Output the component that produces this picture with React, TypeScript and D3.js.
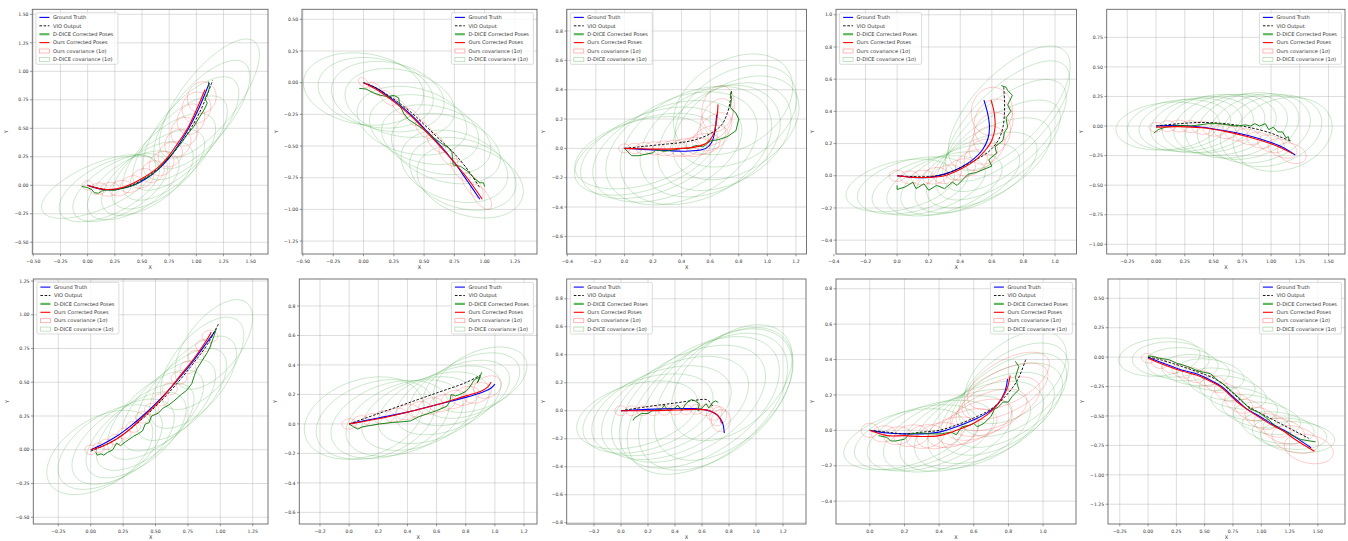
import React from "react";
import * as d3 from "d3";

type Pt = [number, number];
type Ell = [number, number, number, number, number]; // cx, cy, a, b, angle(deg)

// ---------- panel 1 ----------
const p1Gt: Pt[] = [[0,0],[0.1,-0.03],[0.2,-0.04],[0.3,-0.03],[0.42,0.0],[0.54,0.06],[0.65,0.14],[0.75,0.24],[0.84,0.36],[0.93,0.5],[1.02,0.67],[1.12,0.9]];
const p1Vio: Pt[] = [[0,0],[0.15,-0.035],[0.3,-0.03],[0.45,0.02],[0.6,0.11],[0.73,0.22],[0.85,0.36],[0.95,0.5],[1.05,0.68],[1.15,0.92]];
const p1Ours: Pt[] = [[0,0],[0.07,-0.02],[0.15,-0.035],[0.27,-0.03],[0.4,0.01],[0.52,0.07],[0.64,0.15],[0.74,0.25],[0.83,0.37],[0.92,0.5],[1.0,0.66],[1.08,0.84]];
const p1Dice: Pt[] = [[-0.055,-0.01],[0.0,-0.02],[0.04,-0.04],[0.06,-0.065],[0.1,-0.07],[0.13,-0.05],[0.18,-0.04],[0.25,-0.045],[0.3,-0.03],[0.36,-0.02],[0.42,0.0],[0.47,0.02],[0.5,0.05],[0.55,0.07],[0.6,0.1],[0.66,0.15],[0.7,0.2],[0.75,0.25],[0.8,0.3],[0.86,0.37],[0.92,0.45],[0.98,0.52],[1.03,0.6],[1.07,0.66],[1.1,0.72],[1.08,0.76],[1.11,0.82],[1.12,0.86],[1.11,0.91]];
const p1OursCov: Ell[] = [[0,0,0.05,0.04,0],[0.1,-0.03,0.08,0.05,10],[0.2,-0.035,0.09,0.06,10],[0.3,-0.025,0.1,0.065,15],[0.4,0.01,0.1,0.07,20],[0.5,0.06,0.11,0.08,25],[0.6,0.12,0.11,0.09,30],[0.68,0.19,0.12,0.1,35],[0.76,0.27,0.12,0.1,40],[0.83,0.37,0.13,0.11,45],[0.89,0.47,0.13,0.12,50],[0.95,0.58,0.14,0.12,55],[1.0,0.68,0.14,0.13,60],[1.05,0.77,0.14,0.13,60]];
const p1DiceCov: Ell[] = [[0.1,-0.01,0.56,0.2,22],[0.2,-0.03,0.5,0.22,25],[0.3,-0.02,0.48,0.22,28],[0.42,0.0,0.47,0.22,30],[0.55,0.06,0.48,0.23,33],[0.65,0.14,0.5,0.23,36],[0.75,0.25,0.52,0.24,40],[0.85,0.37,0.55,0.24,43],[0.95,0.5,0.58,0.25,46],[1.05,0.62,0.6,0.25,48],[1.12,0.76,0.65,0.25,50]];
const p1XTicks = [-0.5,-0.25,0,0.25,0.5,0.75,1,1.25,1.5];
const p1YTicks = [-0.5,-0.25,0,0.25,0.5,0.75,1,1.25,1.5];

// ---------- panel 2 ----------
const p2Gt: Pt[] = [[0,0],[0.1,-0.04],[0.25,-0.14],[0.4,-0.26],[0.5,-0.36],[0.62,-0.48],[0.75,-0.63],[0.86,-0.78],[0.96,-0.92]];
const p2Vio: Pt[] = [[0,0],[0.1,-0.04],[0.25,-0.13],[0.4,-0.24],[0.5,-0.33],[0.62,-0.44],[0.75,-0.56],[0.87,-0.7],[0.96,-0.83]];
const p2Ours: Pt[] = [[0,0],[0.1,-0.05],[0.25,-0.15],[0.4,-0.27],[0.5,-0.37],[0.62,-0.49],[0.75,-0.63],[0.87,-0.77],[0.98,-0.92]];
const p2Dice: Pt[] = [[-0.035,-0.045],[0.02,-0.05],[0.08,-0.08],[0.14,-0.1],[0.2,-0.11],[0.25,-0.1],[0.29,-0.12],[0.3,-0.18],[0.33,-0.24],[0.37,-0.29],[0.42,-0.32],[0.48,-0.36],[0.55,-0.41],[0.6,-0.45],[0.66,-0.49],[0.7,-0.51],[0.73,-0.55],[0.74,-0.65],[0.8,-0.66],[0.86,-0.7],[0.92,-0.76],[0.96,-0.79],[0.99,-0.79],[1.0,-0.82]];
const p2OursCov: Ell[] = [[0,0,0.05,0.03,-40],[0.1,-0.05,0.07,0.035,-40],[0.2,-0.12,0.08,0.04,-40],[0.3,-0.19,0.08,0.04,-42],[0.4,-0.27,0.09,0.045,-44],[0.5,-0.37,0.09,0.045,-45],[0.6,-0.47,0.1,0.05,-47],[0.7,-0.58,0.1,0.05,-48],[0.8,-0.69,0.11,0.05,-50],[0.9,-0.81,0.12,0.055,-50],[0.97,-0.9,0.12,0.055,-50]];
const p2DiceCov: Ell[] = [[0,-0.05,0.5,0.28,-8],[0.1,-0.08,0.48,0.27,-10],[0.2,-0.11,0.47,0.27,-10],[0.3,-0.16,0.46,0.26,-12],[0.4,-0.3,0.46,0.26,-12],[0.5,-0.37,0.46,0.26,-14],[0.6,-0.45,0.46,0.26,-14],[0.68,-0.52,0.46,0.26,-15],[0.75,-0.66,0.45,0.27,-15],[0.82,-0.72,0.45,0.27,-16],[0.88,-0.78,0.45,0.27,-16]];
const p2XTicks = [-0.5,-0.25,0,0.25,0.5,0.75,1,1.25];
const p2YTicks = [-1.25,-1,-0.75,-0.5,-0.25,0,0.25,0.5];

// ---------- panel 3 ----------
const p3Gt: Pt[] = [[0,0],[0.1,-0.005],[0.2,-0.01],[0.3,-0.015],[0.4,-0.02],[0.5,-0.015],[0.57,0.0],[0.61,0.04],[0.63,0.1],[0.64,0.17],[0.645,0.23]];
const p3Vio: Pt[] = [[0,0],[0.1,0.01],[0.2,0.02],[0.3,0.03],[0.4,0.04],[0.5,0.06],[0.6,0.1],[0.68,0.16],[0.72,0.24],[0.74,0.32],[0.75,0.4]];
const p3Ours: Pt[] = [[0,0],[0.1,-0.003],[0.2,-0.005],[0.3,-0.005],[0.4,0.0],[0.5,0.01],[0.58,0.04],[0.62,0.09],[0.64,0.16],[0.65,0.23],[0.655,0.3]];
const p3Dice: Pt[] = [[0,0],[0.02,-0.02],[0.05,-0.05],[0.1,-0.05],[0.15,-0.04],[0.2,-0.03],[0.22,-0.01],[0.28,-0.02],[0.35,-0.01],[0.4,0.0],[0.45,0.0],[0.5,0.02],[0.55,0.01],[0.6,0.05],[0.66,0.06],[0.72,0.08],[0.78,0.12],[0.8,0.2],[0.78,0.24],[0.74,0.28],[0.75,0.34],[0.74,0.37],[0.75,0.39]];
const p3OursCov: Ell[] = [[0,0,0.04,0.03,0],[0.07,0,0.05,0.035,0],[0.14,0,0.06,0.04,0],[0.21,0,0.07,0.045,0],[0.28,0,0.08,0.05,0],[0.35,0,0.09,0.055,0],[0.42,0.005,0.1,0.06,5],[0.49,0.01,0.11,0.065,5],[0.55,0.03,0.12,0.07,10],[0.6,0.07,0.13,0.08,20],[0.63,0.13,0.14,0.09,40],[0.645,0.2,0.15,0.1,60],[0.655,0.27,0.16,0.11,75]];
const p3DiceCov: Ell[] = [[0.12,-0.03,0.48,0.22,15],[0.15,-0.04,0.52,0.24,18],[0.2,-0.03,0.53,0.27,20],[0.3,-0.02,0.55,0.3,22],[0.4,0.0,0.56,0.34,24],[0.5,0.02,0.56,0.36,25],[0.6,0.05,0.52,0.34,26],[0.7,0.08,0.5,0.32,28],[0.78,0.14,0.48,0.3,30],[0.78,0.22,0.46,0.3,30],[0.76,0.3,0.45,0.3,30]];
const p3XTicks = [-0.4,-0.2,0,0.2,0.4,0.6,0.8,1.0,1.2];
const p3YTicks = [-0.6,-0.4,-0.2,0,0.2,0.4,0.6,0.8];

// ---------- panel 4 ----------
const p4Gt: Pt[] = [[0,0],[0.1,-0.01],[0.2,-0.01],[0.3,0.01],[0.4,0.05],[0.48,0.1],[0.54,0.16],[0.575,0.23],[0.585,0.3],[0.575,0.38],[0.55,0.47]];
const p4Vio: Pt[] = [[0,0],[0.1,-0.005],[0.2,-0.005],[0.3,0.01],[0.4,0.05],[0.5,0.1],[0.58,0.15],[0.64,0.22],[0.67,0.3],[0.68,0.4],[0.68,0.47],[0.675,0.55]];
const p4Ours: Pt[] = [[0,0],[0.1,-0.01],[0.2,-0.01],[0.3,0.0],[0.4,0.04],[0.5,0.1],[0.56,0.16],[0.6,0.22],[0.62,0.3],[0.615,0.39],[0.595,0.47]];
const p4Dice: Pt[] = [[0.0,-0.06],[0.0,-0.085],[0.05,-0.07],[0.1,-0.04],[0.12,-0.08],[0.17,-0.05],[0.2,-0.09],[0.25,-0.06],[0.3,-0.08],[0.35,-0.04],[0.38,-0.06],[0.42,-0.02],[0.45,0.01],[0.5,0.02],[0.55,0.04],[0.6,0.06],[0.58,0.1],[0.63,0.14],[0.62,0.18],[0.67,0.22],[0.68,0.27],[0.7,0.3],[0.69,0.36],[0.72,0.4],[0.7,0.44],[0.73,0.5],[0.7,0.53],[0.69,0.55],[0.66,0.56]];
const p4OursCov: Ell[] = [[0,0,0.05,0.035,0],[0.08,-0.01,0.06,0.04,0],[0.16,-0.01,0.07,0.045,5],[0.24,0.0,0.08,0.05,10],[0.32,0.01,0.09,0.055,15],[0.4,0.04,0.1,0.06,20],[0.47,0.08,0.11,0.07,30],[0.53,0.13,0.12,0.08,40],[0.57,0.19,0.13,0.1,50],[0.6,0.26,0.14,0.11,60],[0.61,0.33,0.15,0.12,70],[0.6,0.4,0.15,0.13,80]];
const p4DiceCov: Ell[] = [[0.02,-0.06,0.35,0.15,12],[0.1,-0.06,0.36,0.16,14],[0.2,-0.06,0.37,0.16,16],[0.3,-0.05,0.38,0.17,18],[0.4,-0.02,0.4,0.18,22],[0.5,0.02,0.42,0.19,26],[0.58,0.08,0.44,0.2,30],[0.64,0.16,0.46,0.2,35],[0.68,0.25,0.48,0.21,40],[0.7,0.34,0.5,0.21,43],[0.71,0.42,0.5,0.22,45]];
const p4XTicks = [-0.4,-0.2,0,0.2,0.4,0.6,0.8,1.0];
const p4YTicks = [-0.4,-0.2,0,0.2,0.4,0.6,0.8,1.0];

// ---------- panel 5 ----------
const p5Gt: Pt[] = [[0,0],[0.2,0.005],[0.4,-0.01],[0.6,-0.04],[0.8,-0.08],[1.0,-0.14],[1.1,-0.18],[1.21,-0.245]];
const p5Vio: Pt[] = [[0,0],[0.2,0.02],[0.4,0.03],[0.6,0.02],[0.8,-0.01],[1.0,-0.06],[1.1,-0.1],[1.17,-0.125]];
const p5Ours: Pt[] = [[0,-0.01],[0.2,-0.005],[0.4,-0.015],[0.6,-0.045],[0.8,-0.09],[1.0,-0.15],[1.1,-0.19],[1.19,-0.235]];
const p5Dice: Pt[] = [[-0.02,-0.06],[0.02,-0.03],[0.08,-0.01],[0.15,0.0],[0.22,0.005],[0.3,0.0],[0.38,0.01],[0.45,0.02],[0.55,0.02],[0.62,0.01],[0.7,0.0],[0.78,0.01],[0.82,0.0],[0.86,0.02],[0.9,0.0],[0.95,0.02],[0.98,-0.03],[1.02,-0.01],[1.06,-0.05],[1.1,-0.05],[1.13,-0.1],[1.15,-0.09],[1.16,-0.13]];
const p5OursCov: Ell[] = [[0,-0.01,0.06,0.04,0],[0.1,0,0.07,0.045,0],[0.2,0,0.08,0.05,-3],[0.3,-0.005,0.08,0.05,-3],[0.4,-0.015,0.09,0.055,-5],[0.5,-0.03,0.09,0.055,-5],[0.6,-0.045,0.1,0.06,-8],[0.7,-0.065,0.1,0.06,-10],[0.8,-0.09,0.11,0.065,-12],[0.9,-0.12,0.11,0.065,-14],[1.0,-0.15,0.12,0.07,-16],[1.1,-0.19,0.13,0.075,-18],[1.18,-0.23,0.13,0.08,-20]];
const p5DiceCov: Ell[] = [[0.1,0,0.45,0.2,5],[0.2,0.01,0.45,0.21,6],[0.3,0.01,0.45,0.22,7],[0.4,0.01,0.45,0.23,8],[0.5,0.02,0.45,0.24,9],[0.6,0.01,0.45,0.25,10],[0.7,0,0.45,0.26,12],[0.8,0,0.45,0.27,13],[0.9,-0.02,0.45,0.28,14],[1.0,-0.04,0.45,0.29,15],[1.1,-0.07,0.44,0.3,16]];
const p5XTicks = [-0.25,0,0.25,0.5,0.75,1,1.25,1.5];
const p5YTicks = [-1,-0.75,-0.5,-0.25,0,0.25,0.5,0.75];

// ---------- panel 6 ----------
const p6Gt: Pt[] = [[0,0],[0.1,0.045],[0.2,0.1],[0.3,0.17],[0.4,0.25],[0.5,0.34],[0.6,0.44],[0.7,0.55],[0.8,0.67],[0.9,0.8],[0.96,0.88]];
const p6Vio: Pt[] = [[0,-0.01],[0.1,0.03],[0.2,0.08],[0.3,0.15],[0.4,0.23],[0.5,0.32],[0.6,0.42],[0.7,0.53],[0.8,0.65],[0.9,0.78],[0.99,0.94]];
const p6Ours: Pt[] = [[0,0],[0.1,0.03],[0.2,0.08],[0.3,0.15],[0.4,0.24],[0.5,0.33],[0.6,0.44],[0.7,0.56],[0.8,0.68],[0.9,0.82],[0.93,0.87]];
const p6Dice: Pt[] = [[0.04,-0.02],[0.05,-0.04],[0.08,-0.03],[0.1,-0.04],[0.13,-0.02],[0.17,0.0],[0.2,0.05],[0.23,0.03],[0.27,0.06],[0.33,0.1],[0.37,0.12],[0.4,0.14],[0.42,0.19],[0.45,0.2],[0.47,0.25],[0.52,0.27],[0.56,0.31],[0.6,0.33],[0.64,0.36],[0.7,0.41],[0.74,0.44],[0.78,0.49],[0.8,0.55],[0.82,0.6],[0.86,0.66],[0.9,0.72],[0.92,0.76],[0.95,0.84],[0.97,0.9]];
const p6OursCov: Ell[] = [[0,0,0.045,0.035,0],[0.06,0.015,0.045,0.035,0],[0.12,0.04,0.05,0.038,0],[0.19,0.075,0.05,0.038,0],[0.26,0.12,0.05,0.04,0],[0.33,0.17,0.055,0.04,0],[0.4,0.24,0.055,0.042,0],[0.47,0.3,0.055,0.042,0],[0.54,0.37,0.058,0.044,0],[0.61,0.45,0.058,0.044,0],[0.68,0.53,0.06,0.045,0],[0.75,0.61,0.06,0.045,0],[0.81,0.69,0.06,0.045,0],[0.87,0.77,0.06,0.045,0],[0.92,0.84,0.06,0.045,0]];
const p6DiceCov: Ell[] = [[0.07,-0.02,0.45,0.25,30],[0.15,0.02,0.45,0.24,32],[0.25,0.06,0.45,0.23,34],[0.35,0.11,0.45,0.22,36],[0.42,0.17,0.45,0.21,38],[0.5,0.26,0.45,0.21,40],[0.6,0.33,0.45,0.21,42],[0.7,0.41,0.44,0.21,44],[0.79,0.5,0.43,0.21,46],[0.86,0.64,0.42,0.21,48],[0.95,0.78,0.4,0.2,50]];
const p6XTicks = [-0.25,0,0.25,0.5,0.75,1,1.25];
const p6YTicks = [-0.5,-0.25,0,0.25,0.5,0.75,1,1.25];

// ---------- panel 7 ----------
const p7Gt: Pt[] = [[0,0],[0.2,0.04],[0.4,0.08],[0.6,0.13],[0.8,0.18],[0.9,0.21],[0.97,0.24],[1.0,0.27]];
const p7Vio: Pt[] = [[0,0],[0.2,0.07],[0.4,0.14],[0.6,0.21],[0.8,0.28],[0.9,0.33]];
const p7Ours: Pt[] = [[0,0],[0.2,0.035],[0.4,0.08],[0.6,0.13],[0.8,0.19],[0.9,0.22],[0.95,0.25],[0.975,0.285]];
const p7Dice: Pt[] = [[0,0],[0.03,-0.02],[0.06,-0.035],[0.09,-0.02],[0.15,-0.01],[0.21,0.0],[0.3,0.01],[0.37,0.015],[0.42,0.02],[0.48,0.05],[0.54,0.07],[0.6,0.09],[0.67,0.12],[0.69,0.15],[0.7,0.2],[0.73,0.19],[0.76,0.2],[0.8,0.22],[0.82,0.24],[0.86,0.3],[0.9,0.32],[0.88,0.28],[0.91,0.35]];
const p7OursCov: Ell[] = [[0,0,0.05,0.035,5],[0.08,0.015,0.06,0.04,8],[0.16,0.03,0.065,0.04,10],[0.24,0.045,0.07,0.045,10],[0.32,0.06,0.075,0.045,12],[0.4,0.08,0.08,0.05,12],[0.48,0.1,0.08,0.05,14],[0.56,0.12,0.085,0.055,14],[0.64,0.14,0.09,0.055,16],[0.72,0.165,0.09,0.06,16],[0.8,0.19,0.095,0.06,18],[0.88,0.21,0.1,0.065,20],[0.95,0.25,0.1,0.07,25]];
const p7DiceCov: Ell[] = [[0.1,0.04,0.42,0.26,18],[0.18,0.03,0.42,0.25,18],[0.28,0.03,0.42,0.24,19],[0.38,0.04,0.42,0.23,20],[0.48,0.07,0.41,0.22,20],[0.58,0.11,0.4,0.21,21],[0.68,0.16,0.38,0.2,22],[0.76,0.21,0.36,0.19,22],[0.84,0.26,0.35,0.19,23],[0.9,0.3,0.34,0.19,24]];
const p7XTicks = [-0.2,0,0.2,0.4,0.6,0.8,1.0,1.2];
const p7YTicks = [-0.6,-0.4,-0.2,0,0.2,0.4,0.6,0.8];

// ---------- panel 8 ----------
const p8Gt: Pt[] = [[0,0],[0.2,0.01],[0.4,0.015],[0.55,0.015],[0.65,0.0],[0.71,-0.03],[0.75,-0.08],[0.765,-0.16]];
const p8Vio: Pt[] = [[0,0],[0.2,0.03],[0.4,0.055],[0.55,0.075],[0.63,0.08],[0.66,0.06],[0.68,0.03]];
const p8Ours: Pt[] = [[0,0],[0.2,0.0],[0.4,0.005],[0.55,0.01],[0.64,0.005],[0.7,-0.02],[0.73,-0.05],[0.745,-0.09]];
const p8Dice: Pt[] = [[0.09,-0.07],[0.1,-0.05],[0.12,-0.04],[0.15,-0.02],[0.2,-0.02],[0.23,0.0],[0.3,0.01],[0.32,0.04],[0.35,0.0],[0.4,0.02],[0.42,0.04],[0.45,0.0],[0.48,0.05],[0.52,0.08],[0.55,0.07],[0.58,0.05],[0.57,0.0],[0.6,0.02],[0.63,0.05],[0.65,0.02],[0.68,0.06],[0.7,0.07],[0.72,0.06]];
const p8OursCov: Ell[] = [[0,0,0.045,0.035,0],[0.08,0,0.045,0.035,0],[0.16,0,0.045,0.035,0],[0.24,0,0.045,0.035,0],[0.32,0.003,0.045,0.035,0],[0.4,0.005,0.045,0.035,0],[0.48,0.008,0.045,0.035,0],[0.56,0.01,0.045,0.035,0],[0.63,0.005,0.05,0.04,0],[0.69,-0.015,0.06,0.05,30],[0.72,-0.04,0.07,0.06,60],[0.74,-0.07,0.08,0.07,80]];
const p8DiceCov: Ell[] = [[0.12,-0.03,0.46,0.22,15],[0.2,-0.02,0.5,0.25,18],[0.3,0.0,0.54,0.28,20],[0.4,0.02,0.58,0.31,24],[0.5,0.05,0.62,0.34,28],[0.58,0.06,0.66,0.37,32],[0.64,0.05,0.68,0.38,36],[0.7,0.08,0.66,0.38,38],[0.76,0.12,0.6,0.36,40],[0.82,0.2,0.52,0.32,40]];
const p8XTicks = [-0.2,0,0.2,0.4,0.6,0.8,1.0,1.2];
const p8YTicks = [-0.8,-0.6,-0.4,-0.2,0,0.2,0.4,0.6,0.8];

// ---------- panel 9 ----------
const p9Gt: Pt[] = [[0,0],[0.1,-0.015],[0.2,-0.02],[0.3,-0.02],[0.4,-0.01],[0.5,0.02],[0.6,0.06],[0.68,0.1],[0.74,0.15],[0.78,0.22],[0.795,0.29]];
const p9Vio: Pt[] = [[0,0],[0.1,-0.01],[0.2,-0.02],[0.3,-0.01],[0.4,0.0],[0.5,0.03],[0.6,0.07],[0.7,0.12],[0.78,0.19],[0.85,0.28],[0.9,0.4]];
const p9Ours: Pt[] = [[0,0],[0.1,-0.03],[0.2,-0.03],[0.3,-0.035],[0.4,-0.03],[0.5,0.0],[0.6,0.04],[0.68,0.09],[0.74,0.15],[0.79,0.23],[0.81,0.31]];
const p9Dice: Pt[] = [[0.05,-0.03],[0.1,-0.04],[0.12,-0.06],[0.15,-0.06],[0.2,-0.05],[0.23,-0.02],[0.3,-0.015],[0.35,-0.02],[0.41,-0.02],[0.47,-0.01],[0.5,-0.025],[0.53,0.02],[0.58,0.03],[0.6,0.04],[0.62,0.02],[0.66,0.04],[0.7,0.08],[0.72,0.12],[0.74,0.13],[0.77,0.16],[0.8,0.16],[0.82,0.19],[0.86,0.23],[0.84,0.3],[0.86,0.36],[0.84,0.39]];
const p9OursCov: Ell[] = [[0,0,0.05,0.04,0],[0.08,-0.02,0.07,0.045,5],[0.16,-0.03,0.08,0.05,5],[0.24,-0.03,0.1,0.06,8],[0.32,-0.035,0.11,0.065,10],[0.4,-0.03,0.13,0.07,12],[0.48,-0.01,0.15,0.08,15],[0.56,0.02,0.18,0.09,18],[0.63,0.06,0.2,0.1,20],[0.69,0.1,0.23,0.11,22],[0.74,0.15,0.26,0.12,24],[0.78,0.22,0.27,0.12,26],[0.8,0.28,0.26,0.12,28]];
const p9DiceCov: Ell[] = [[0.2,-0.05,0.36,0.15,15],[0.27,-0.04,0.37,0.16,16],[0.35,-0.03,0.38,0.17,18],[0.45,-0.02,0.39,0.18,20],[0.55,0,0.4,0.19,22],[0.63,0.03,0.4,0.2,25],[0.7,0.07,0.4,0.2,28],[0.76,0.12,0.39,0.2,30],[0.8,0.17,0.38,0.2,33],[0.83,0.23,0.36,0.2,35],[0.84,0.3,0.34,0.2,38]];
const p9XTicks = [0,0.2,0.4,0.6,0.8,1.0];
const p9YTicks = [-0.4,-0.2,0,0.2,0.4,0.6,0.8];

// ---------- panel 10 ----------
const p10Gt: Pt[] = [[0,0],[0.1,-0.04],[0.27,-0.1],[0.45,-0.15],[0.56,-0.2],[0.65,-0.25],[0.72,-0.31],[0.8,-0.38],[0.87,-0.44],[0.98,-0.5],[1.1,-0.57],[1.2,-0.62],[1.3,-0.68],[1.44,-0.77]];
const p10Vio: Pt[] = [[0,0],[0.1,-0.02],[0.27,-0.07],[0.45,-0.13],[0.56,-0.17],[0.65,-0.22],[0.72,-0.28],[0.8,-0.35],[0.87,-0.41],[0.98,-0.47],[1.1,-0.53],[1.2,-0.58],[1.3,-0.63],[1.42,-0.69]];
const p10Ours: Pt[] = [[0,-0.01],[0.1,-0.05],[0.27,-0.11],[0.45,-0.16],[0.56,-0.21],[0.65,-0.26],[0.72,-0.32],[0.8,-0.39],[0.87,-0.44],[0.98,-0.51],[1.1,-0.58],[1.2,-0.63],[1.3,-0.7],[1.47,-0.8]];
const p10Dice: Pt[] = [[0,0.01],[0.05,0.005],[0.1,-0.01],[0.18,-0.02],[0.25,-0.05],[0.35,-0.08],[0.45,-0.12],[0.55,-0.14],[0.62,-0.2],[0.68,-0.24],[0.75,-0.3],[0.82,-0.36],[0.9,-0.44],[0.98,-0.47],[1.05,-0.52],[1.12,-0.58],[1.18,-0.62],[1.25,-0.65],[1.35,-0.7],[1.48,-0.72]];
const p10OursCov: Ell[] = [[0,-0.01,0.06,0.04,-10],[0.1,-0.05,0.07,0.045,-12],[0.2,-0.085,0.08,0.05,-14],[0.3,-0.12,0.09,0.055,-16],[0.4,-0.15,0.1,0.06,-18],[0.5,-0.18,0.1,0.06,-20],[0.6,-0.23,0.11,0.065,-22],[0.7,-0.3,0.12,0.07,-24],[0.8,-0.39,0.13,0.075,-24],[0.9,-0.45,0.14,0.08,-22],[1.0,-0.52,0.15,0.085,-20],[1.1,-0.58,0.17,0.09,-18],[1.2,-0.63,0.19,0.1,-16],[1.3,-0.7,0.21,0.11,-14],[1.42,-0.78,0.22,0.12,-12]];
const p10DiceCov: Ell[] = [[0.1,0,0.36,0.16,5],[0.2,-0.02,0.34,0.15,0],[0.3,-0.06,0.32,0.14,-3],[0.42,-0.11,0.3,0.13,-5],[0.55,-0.15,0.3,0.13,-8],[0.65,-0.23,0.3,0.13,-10],[0.75,-0.3,0.3,0.13,-12],[0.85,-0.4,0.3,0.13,-12],[0.95,-0.46,0.3,0.13,-12],[1.05,-0.52,0.3,0.13,-10],[1.15,-0.6,0.32,0.13,-8],[1.25,-0.65,0.33,0.13,-6],[1.32,-0.68,0.33,0.13,-5]];
const p10XTicks = [-0.25,0,0.25,0.5,0.75,1,1.25,1.5];
const p10YTicks = [-1.25,-1,-0.75,-0.5,-0.25,0,0.25,0.5];

const legendLabels = ["Ground Truth", "VIO Output", "D-DICE Corrected Poses", "Ours Corrected Poses", "Ours covariance (1\u03c3)", "D-DICE covariance (1\u03c3)"];

const panels = [
  { gt: p1Gt, vio: p1Vio, dice: p1Dice, ours: p1Ours, oursCov: p1OursCov, diceCov: p1DiceCov, xDom: [-0.509, 1.659], yDom: [-0.603, 1.544], xTicks: p1XTicks, yTicks: p1YTicks, fmt: ".2f", legend: "left" },
  { gt: p2Gt, vio: p2Vio, dice: p2Dice, ours: p2Ours, oursCov: p2OursCov, diceCov: p2DiceCov, xDom: [-0.508, 1.432], yDom: [-1.352, 0.579], xTicks: p2XTicks, yTicks: p2YTicks, fmt: ".2f", legend: "right" },
  { gt: p3Gt, vio: p3Vio, dice: p3Dice, ours: p3Ours, oursCov: p3OursCov, diceCov: p3DiceCov, xDom: [-0.404, 1.274], yDom: [-0.72, 0.948], xTicks: p3XTicks, yTicks: p3YTicks, fmt: ".1f", legend: "left" },
  { gt: p4Gt, vio: p4Vio, dice: p4Dice, ours: p4Ours, oursCov: p4OursCov, diceCov: p4DiceCov, xDom: [-0.387, 1.136], yDom: [-0.486, 1.034], xTicks: p4XTicks, yTicks: p4YTicks, fmt: ".1f", legend: "left" },
  { gt: p5Gt, vio: p5Vio, dice: p5Dice, ours: p5Ours, oursCov: p5OursCov, diceCov: p5DiceCov, xDom: [-0.429, 1.643], yDom: [-1.082, 0.987], xTicks: p5XTicks, yTicks: p5YTicks, fmt: ".2f", legend: "right" },
  { gt: p6Gt, vio: p6Vio, dice: p6Dice, ours: p6Ours, oursCov: p6OursCov, diceCov: p6DiceCov, xDom: [-0.443, 1.368], yDom: [-0.55, 1.265], xTicks: p6XTicks, yTicks: p6YTicks, fmt: ".2f", legend: "left" },
  { gt: p7Gt, vio: p7Vio, dice: p7Dice, ours: p7Ours, oursCov: p7OursCov, diceCov: p7DiceCov, xDom: [-0.342, 1.289], yDom: [-0.679, 0.983], xTicks: p7XTicks, yTicks: p7YTicks, fmt: ".1f", legend: "right" },
  { gt: p8Gt, vio: p8Vio, dice: p8Dice, ours: p8Ours, oursCov: p8OursCov, diceCov: p8DiceCov, xDom: [-0.402, 1.37], yDom: [-0.809, 0.941], xTicks: p8XTicks, yTicks: p8YTicks, fmt: ".1f", legend: "left" },
  { gt: p9Gt, vio: p9Vio, dice: p9Dice, ours: p9Ours, oursCov: p9OursCov, diceCov: p9DiceCov, xDom: [-0.195, 1.19], yDom: [-0.529, 0.855], xTicks: p9XTicks, yTicks: p9YTicks, fmt: ".1f", legend: "right" },
  { gt: p10Gt, vio: p10Vio, dice: p10Dice, ours: p10Ours, oursCov: p10OursCov, diceCov: p10DiceCov, xDom: [-0.354, 1.74], yDom: [-1.418, 0.664], xTicks: p10XTicks, yTicks: p10YTicks, fmt: ".2f", legend: "right" },
];

// axes boxes in pixels: [left, right, top, bottom]
const boxes = [
  [32.3, 268, 9.3, 254], [302, 537, 9.3, 254], [566.7, 806.5, 9.3, 254], [836, 1076.5, 9.3, 254], [1106.7, 1345, 9.3, 254],
  [33.3, 268, 279, 524], [299.3, 537, 279, 524], [566.7, 806, 279, 524], [836, 1076, 279, 524], [1108, 1345, 279, 524],
];

const FONT = "DejaVu Sans, sans-serif";
const TXT = "#333";

function ellipsePts(e: Ell): Pt[] {
  const [cx, cy, a, b, deg] = e;
  const th = (deg * Math.PI) / 180;
  return d3.range(0, 73).map((i) => {
    const t = (i / 72) * 2 * Math.PI;
    return [
      cx + a * Math.cos(t) * Math.cos(th) - b * Math.sin(t) * Math.sin(th),
      cy + a * Math.cos(t) * Math.sin(th) + b * Math.sin(t) * Math.cos(th),
    ] as Pt;
  });
}

function Panel({ p, box, idx }: any) {
  const [x0, x1, y0, y1] = box;
  const x = d3.scaleLinear().domain(p.xDom).range([x0, x1]);
  const y = d3.scaleLinear().domain(p.yDom).range([y1, y0]);
  const straight = d3.line<Pt>().x((d) => x(d[0])).y((d) => y(d[1]));
  const smooth = d3.line<Pt>().x((d) => x(d[0])).y((d) => y(d[1])).curve(d3.curveCatmullRom.alpha(0.5));
  const fmt = d3.format(p.fmt);
  const clip = `clip-${idx}`;
  const lw = 82, lh = 51.6;
  const lx = p.legend === "left" ? x0 + 3.6 : x1 - 3.6 - lw;
  const ly = y0 + 3.4;
  const ylabOff = p.fmt === ".2f" ? 24 : 22;

  return (
    <g>
      <defs>
        <clipPath id={clip}>
          <rect x={x0} y={y0} width={x1 - x0} height={y1 - y0} />
        </clipPath>
      </defs>
      <rect x={x0} y={y0} width={x1 - x0} height={y1 - y0} fill="#fff" />
      <g clipPath={`url(#${clip})`}>
        {p.xTicks.map((t: number) => (
          <line key={"gx" + t} x1={x(t)} x2={x(t)} y1={y0} y2={y1} stroke="#b0b0b0" strokeOpacity={0.55} strokeWidth={0.8} />
        ))}
        {p.yTicks.map((t: number) => (
          <line key={"gy" + t} y1={y(t)} y2={y(t)} x1={x0} x2={x1} stroke="#b0b0b0" strokeOpacity={0.55} strokeWidth={0.8} />
        ))}
        {p.diceCov.map((e: Ell, i: number) => (
          <path key={"dc" + i} d={straight(ellipsePts(e)) || ""} fill="none" stroke="#2ca02c" strokeOpacity={0.3} strokeWidth={0.8} />
        ))}
        {p.oursCov.map((e: Ell, i: number) => (
          <path key={"oc" + i} d={straight(ellipsePts(e)) || ""} fill="none" stroke="#ff0000" strokeOpacity={0.25} strokeWidth={0.8} />
        ))}
        <path d={smooth(p.gt) || ""} fill="none" stroke="#0000ff" strokeWidth={1.1} />
        <path d={smooth(p.vio) || ""} fill="none" stroke="#000" strokeWidth={0.9} strokeDasharray="2.6,1.6" />
        <path d={straight(p.dice) || ""} fill="none" stroke="#007a00" strokeWidth={0.9} strokeLinejoin="round" />
        <path d={smooth(p.ours) || ""} fill="none" stroke="#ff0000" strokeWidth={1.1} />
      </g>
      <rect x={x0} y={y0} width={x1 - x0} height={y1 - y0} fill="none" stroke="#666" strokeWidth={0.9} />
      {p.xTicks.map((t: number) => (
        <g key={"tx" + t}>
          <line x1={x(t)} x2={x(t)} y1={y1} y2={y1 + 2.3} stroke="#555" strokeWidth={0.6} />
          <text x={x(t)} y={y1 + 8.7} fontSize={4.6} fill={TXT} textAnchor="middle" fontFamily={FONT}>{fmt(t)}</text>
        </g>
      ))}
      {p.yTicks.map((t: number) => (
        <g key={"ty" + t}>
          <line y1={y(t)} y2={y(t)} x1={x0} x2={x0 - 2.3} stroke="#555" strokeWidth={0.6} />
          <text x={x0 - 3.8} y={y(t) + 1.7} fontSize={4.6} fill={TXT} textAnchor="end" fontFamily={FONT}>{fmt(t)}</text>
        </g>
      ))}
      <text x={(x0 + x1) / 2} y={y1 + 15} fontSize={5} fill={TXT} textAnchor="middle" fontFamily={FONT}>X</text>
      <text transform={`translate(${x0 - ylabOff},${(y0 + y1) / 2}) rotate(-90)`} fontSize={5} fill={TXT} textAnchor="middle" fontFamily={FONT}>Y</text>
      <g transform={`translate(${lx},${ly})`}>
        <rect width={lw} height={lh} rx={1.5} fill="#fff" fillOpacity={0.8} stroke="#ccc" strokeWidth={0.7} />
        {legendLabels.map((lab, i) => {
          const cy = 4.7 + i * 8.4;
          let handle;
          if (i === 0) handle = <line x1={3.5} x2={13.5} y1={cy} y2={cy} stroke="#0000ff" strokeWidth={1.1} />;
          else if (i === 1) handle = <line x1={3.5} x2={13.5} y1={cy} y2={cy} stroke="#000" strokeWidth={0.9} strokeDasharray="2.6,1.6" />;
          else if (i === 2) handle = <line x1={3.5} x2={13.5} y1={cy} y2={cy} stroke="#2ca02c" strokeOpacity={0.75} strokeWidth={2.2} />;
          else if (i === 3) handle = <line x1={3.5} x2={13.5} y1={cy} y2={cy} stroke="#ff0000" strokeWidth={1.1} />;
          else if (i === 4) handle = <rect x={3.5} y={cy - 2} width={10} height={4} fill="none" stroke="#ff0000" strokeOpacity={0.4} strokeWidth={0.7} />;
          else handle = <rect x={3.5} y={cy - 2} width={10} height={4} fill="none" stroke="#2ca02c" strokeOpacity={0.4} strokeWidth={0.7} />;
          return (
            <g key={lab}>
              {handle}
              <text x={17} y={cy + 1.8} fontSize={5.1} fill={TXT} fontFamily={FONT}>{lab}</text>
            </g>
          );
        })}
      </g>
    </g>
  );
}

export default function App() {
  return (
    <svg width={1348} height={541} style={{ position: "absolute", left: 0, top: 0, background: "#fff" }}>
      <rect width={1348} height={541} fill="#fff" />
      {panels.map((p, i) => (
        <Panel key={i} p={p} box={boxes[i]} idx={i} />
      ))}
    </svg>
  );
}
